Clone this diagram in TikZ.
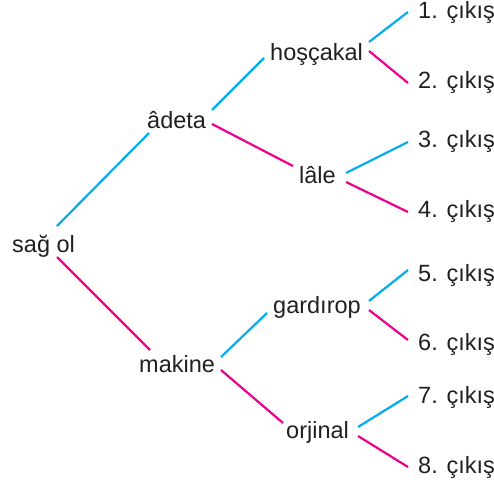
\documentclass[tikz,border=0pt]{standalone}
\usepackage{fontspec}
\setmainfont{Liberation Sans}
\usetikzlibrary{calc}
\definecolor{cb}{HTML}{00AEEF}
\definecolor{cp}{HTML}{EC008C}
\definecolor{tx}{HTML}{231F20}
\tikzset{
  lbl/.style={anchor=base west, inner sep=0pt, text=tx, font=\fontsize{23.5}{26}\selectfont},
  bl/.style={draw=cb, line width=2.2pt},
  pk/.style={draw=cp, line width=2.2pt}
}
\begin{document}
\begin{tikzpicture}[x=1pt,y=-1pt]
\useasboundingbox[fill=white] (0,0) rectangle (494,485);
\node[lbl] (root) at (12,252) {sağ ol};
\node[lbl] (adeta) at (147,128) {âdeta};
\node[lbl] (hos) at (270,60) {hoşçakal};
\node[lbl] (lale) at (299,183) {lâle};
\node[lbl] (mak) at (139,372) {makine};
\node[lbl] (gar) at (273,313) {gardırop};
\node[lbl] (orj) at (286,438) {orjinal};
\node[lbl] (o1) at (418,18) {1. çıkış};
\node[lbl] (o2) at (418,88) {2. çıkış};
\node[lbl] (o3) at (418,147) {3. çıkış};
\node[lbl] (o4) at (418,217) {4. çıkış};
\node[lbl] (o5) at (418,281) {5. çıkış};
\node[lbl] (o6) at (418,350) {6. çıkış};
\node[lbl] (o7) at (418,403) {7. çıkış};
\node[lbl] (o8) at (418,473) {8. çıkış};

\draw[bl] ($(root.base west)+(45,-26)$) -- ($(adeta.base west)+(2,5)$);
\draw[pk] ($(root.base west)+(45,5)$) -- ($(mak.base west)+(11,-22)$);
\draw[bl] ($(adeta.base west)+(65,-18)$) -- ($(hos.base west)+(-6,-2)$);
\draw[pk] ($(adeta.base west)+(65,-4)$) -- ($(lale.base west)+(-6,-17)$);
\draw[bl] ($(hos.base west)+(99,-18)$) -- ($(o1.base west)+(-10,-6)$);
\draw[pk] ($(hos.base west)+(99,-9)$) -- ($(o2.base west)+(-10,-5)$);
\draw[bl] ($(lale.base west)+(47,-10)$) -- ($(o3.base west)+(-10,-5)$);
\draw[pk] ($(lale.base west)+(47,-1)$) -- ($(o4.base west)+(-10,-5)$);
\draw[bl] ($(mak.base west)+(82,-15)$) -- ($(gar.base west)+(-6,0)$);
\draw[pk] ($(mak.base west)+(82,-2)$) -- ($(orj.base west)+(-3,-15)$);
\draw[bl] ($(gar.base west)+(96,-12)$) -- ($(o5.base west)+(-10,-11)$);
\draw[pk] ($(gar.base west)+(96,-3)$) -- ($(o6.base west)+(-10,-10)$);
\draw[bl] ($(orj.base west)+(72,-11)$) -- ($(o7.base west)+(-10,-7)$);
\draw[pk] ($(orj.base west)+(72,-2)$) -- ($(o8.base west)+(-10,-6)$);
\end{tikzpicture}
\end{document}
